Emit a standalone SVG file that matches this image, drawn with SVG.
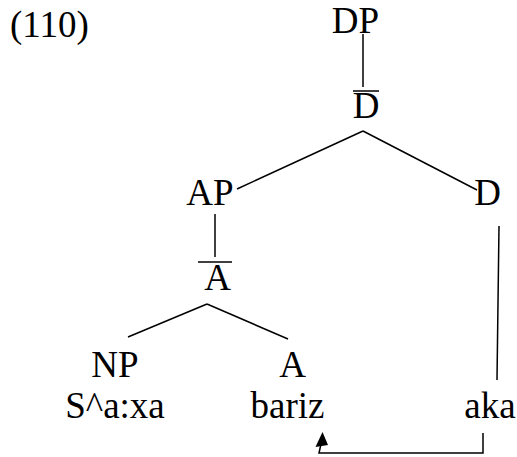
<svg xmlns="http://www.w3.org/2000/svg" width="517" height="457" viewBox="0 0 517 457">
<style>
text{font-family:"Liberation Serif","Times New Roman",serif;font-size:37px;fill:#000;text-anchor:middle}
.l{stroke:#000;stroke-width:1.5;fill:none}
</style>
<rect width="517" height="457" fill="#fff"/>
<text x="10" y="37" style="text-anchor:start">(110)</text>
<g id="DP"><text x="355.5" y="33">DP</text></g>
<g id="Dbar"><text x="366" y="118">D</text><line class="l" x1="353" y1="91" x2="379" y2="91"/></g>
<g id="AP"><text x="210" y="205">AP</text></g>
<g id="D"><text x="487.5" y="205">D</text></g>
<g id="Abar"><text x="217.5" y="290">A</text><line class="l" x1="198" y1="262" x2="232" y2="262"/></g>
<g id="NP"><text x="115" y="377">NP</text><text x="115" y="418">S^a:xa</text></g>
<g id="A"><text x="292.5" y="377">A</text><text x="287.5" y="418">bariz</text></g>
<g id="aka"><text x="490" y="418">aka</text></g>
<g id="connectors">
<line class="l" x1="363" y1="34" x2="363" y2="87"/>
<line class="l" x1="363" y1="131" x2="237" y2="189"/>
<line class="l" x1="363" y1="131" x2="477" y2="190"/>
<line class="l" x1="215" y1="214" x2="215" y2="257"/>
<line class="l" x1="499" y1="226" x2="497" y2="380"/>
<line class="l" x1="207" y1="304" x2="128" y2="337"/>
<line class="l" x1="207" y1="304" x2="288" y2="339"/>
<path class="l" d="M483,433 V453 H319 L321,444"/>
<polygon points="322.5,432 315.5,447 328,445" fill="#000"/>
</g>
</svg>
